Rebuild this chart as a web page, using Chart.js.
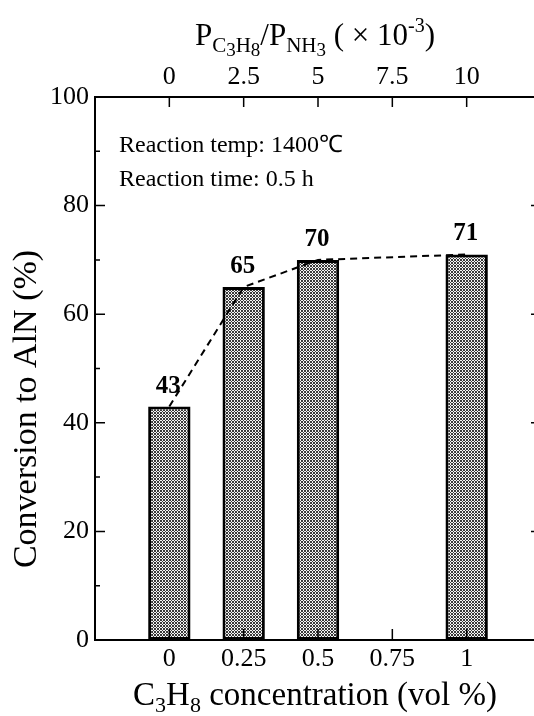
<!DOCTYPE html>
<html>
<head>
<meta charset="utf-8">
<script src="https://cdn.jsdelivr.net/npm/chart.js@4.4.0/dist/chart.umd.min.js"></script>
<style>
  html, body { margin: 0; padding: 0; background: #fff; overflow: hidden; }
  #wrap { width: 534px; height: 716px; overflow: hidden; }
  canvas { display: block; }
</style>
</head>
<body>
<div id="wrap"><canvas id="barChart" width="545" height="716"></canvas></div>
<script>
  // data
  const concentration = [0, 0.25, 0.5, 1];
  const conversion = [43, 65, 70, 71];
  const bottomTicks = [0, 0.25, 0.5, 0.75, 1];
  const topTicks = [0, 2.5, 5, 7.5, 10];
  const notes = ['Reaction temp: 1400\u2103', 'Reaction time: 0.5 h'];

  const serif = '"Liberation Serif", "Times New Roman", serif';

  // crosshatch fill for the bars
  function hatch() {
    const c = document.createElement('canvas');
    c.width = 3; c.height = 3;
    const g = c.getContext('2d');
    g.fillStyle = '#f4f4f4';
    g.fillRect(0, 0, 3, 3);
    g.fillStyle = '#3a3a3a';
    for (let i = 0; i < 3; i++) {
      for (let j = 0; j < 3; j++) {
        if ((i + j) % 3 === 0 || (i - j + 3) % 3 === 0) g.fillRect(i, j, 1, 1);
      }
    }
    return g.createPattern(c, 'repeat');
  }

  function drawRuns(ctx, runs, cx, base) {
    let w = 0;
    runs.forEach(r => { ctx.font = r.size + 'px ' + serif; w += ctx.measureText(r.t).width; });
    let x = cx - w / 2;
    ctx.textAlign = 'left';
    ctx.textBaseline = 'alphabetic';
    runs.forEach(r => {
      ctx.font = r.size + 'px ' + serif;
      ctx.fillText(r.t, x, base + r.dy);
      x += ctx.measureText(r.t).width;
    });
  }

  const insideTicks = {
    id: 'insideTicks',
    afterDraw(chart) {
      const ctx = chart.ctx;
      const a = chart.chartArea;
      const s = chart.scales;
      ctx.save();
      ctx.strokeStyle = '#000';
      ctx.lineWidth = 1.5;
      ctx.beginPath();
      s.x.ticks.forEach(t => {
        if (!bottomTicks.includes(t.value)) return;
        const px = s.x.getPixelForValue(t.value);
        ctx.moveTo(px, a.bottom); ctx.lineTo(px, a.bottom - 11);
      });
      s.x2.ticks.forEach(t => {
        if (!topTicks.includes(t.value)) return;
        const px = s.x2.getPixelForValue(t.value);
        ctx.moveTo(px, a.top); ctx.lineTo(px, a.top + 10);
      });
      s.y.ticks.forEach(t => {
        if (t.value <= 0 || t.value >= 100) return;
        const py = s.y.getPixelForValue(t.value);
        const len = t.value % 20 === 0 ? 10 : 5;
        ctx.moveTo(a.left, py); ctx.lineTo(a.left + len, py);
        ctx.moveTo(a.right, py); ctx.lineTo(a.right - len, py);
      });
      ctx.stroke();

      // axis titles
      ctx.fillStyle = '#000';
      drawRuns(ctx, [
        { t: 'C', size: 33, dy: 0 },
        { t: '3', size: 22, dy: 7 },
        { t: 'H', size: 33, dy: 0 },
        { t: '8', size: 22, dy: 7 },
        { t: ' concentration (vol %)', size: 33, dy: 0 }
      ], 315, 705);

      drawRuns(ctx, [
        { t: 'P', size: 31, dy: 0 },
        { t: 'C', size: 21, dy: 7 },
        { t: '3', size: 19, dy: 11 },
        { t: 'H', size: 21, dy: 7 },
        { t: '8', size: 19, dy: 11 },
        { t: '/P', size: 31, dy: 0 },
        { t: 'NH', size: 21, dy: 7 },
        { t: '3', size: 19, dy: 11 },
        { t: ' ( \u00d7 10', size: 31, dy: 0 },
        { t: '-3', size: 20, dy: -13 },
        { t: ')', size: 31, dy: 0 }
      ], 315, 45);

      ctx.save();
      ctx.translate(36, 409);
      ctx.rotate(-Math.PI / 2);
      ctx.font = '34px ' + serif;
      ctx.textAlign = 'center';
      ctx.textBaseline = 'alphabetic';
      ctx.fillText('Conversion to AlN (%)', 0, 0);
      ctx.restore();

      // notes
      ctx.font = '24px ' + serif;
      ctx.textAlign = 'left';
      notes.forEach((n, i) => ctx.fillText(n, 119, 152 + i * 34));
      ctx.restore();
    }
  };

  const barValues = {
    id: 'barValues',
    afterDatasetsDraw(chart) {
      const ctx = chart.ctx;
      const meta = chart.getDatasetMeta(1);
      ctx.save();
      ctx.fillStyle = '#000';
      ctx.font = 'bold 25px ' + serif;
      ctx.textAlign = 'center';
      ctx.textBaseline = 'alphabetic';
      meta.data.forEach((bar, i) => ctx.fillText(conversion[i], bar.x - 1, bar.y - 14));
      ctx.restore();
    }
  };

  const ctx = document.getElementById('barChart');
  const tickFont = { family: serif, size: 26 };
  const frame = { display: true, color: '#000', width: 2 };

  new Chart(ctx, {
    type: 'bar',
    data: {
      datasets: [{
        type: 'line',
        data: concentration.map((c, i) => ({ x: c, y: conversion[i] })),
        borderColor: '#000',
        borderWidth: 2,
        borderDash: [7, 5],
        pointRadius: 0,
        tension: 0,
        fill: false,
        order: 0
      }, {
        type: 'bar',
        data: concentration.map((c, i) => ({ x: c, y: conversion[i] })),
        backgroundColor: hatch(),
        borderColor: '#000',
        borderWidth: 3,
        borderSkipped: false,
        barPercentage: 1,
        categoryPercentage: 0.57,
        order: 1
      }]
    },
    options: {
      responsive: false,
      animation: false,
      devicePixelRatio: 1,
      layout: { padding: 0 },
      plugins: { legend: { display: false }, tooltip: { enabled: false } },
      scales: {
        x: {
          type: 'linear', position: 'bottom', offset: false,
          min: -0.25, max: 1.25,
          grid: { display: false, drawTicks: false }, border: frame,
          ticks: {
            stepSize: 0.25, autoSkip: false, maxRotation: 0, padding: 4,
            color: '#000', font: tickFont,
            callback: v => bottomTicks.includes(v) ? String(v) : ''
          },
          afterFit: s => { s.height = 76; }
        },
        x2: {
          type: 'linear', position: 'top', offset: false,
          min: -2.5, max: 12.5,
          grid: { display: false, drawTicks: false }, border: frame,
          ticks: {
            stepSize: 2.5, autoSkip: false, maxRotation: 0, padding: 4,
            color: '#000', font: tickFont,
            callback: v => topTicks.includes(v) ? String(v) : ''
          },
          afterFit: s => { s.height = 97; }
        },
        y: {
          type: 'linear', position: 'left',
          min: 0, max: 100,
          grid: { display: false, drawTicks: false }, border: frame,
          ticks: {
            stepSize: 10, padding: 6,
            color: '#000', font: tickFont,
            callback: v => v % 20 === 0 ? String(v) : ''
          },
          afterFit: s => { s.width = 95; }
        },
        y2: {
          type: 'linear', position: 'right',
          min: 0, max: 100,
          grid: { display: false, drawTicks: false }, border: frame,
          ticks: { display: false, stepSize: 10 },
          afterFit: s => { s.width = 4; }
        }
      }
    },
    plugins: [barValues, insideTicks]
  });
</script>
</body>
</html>
